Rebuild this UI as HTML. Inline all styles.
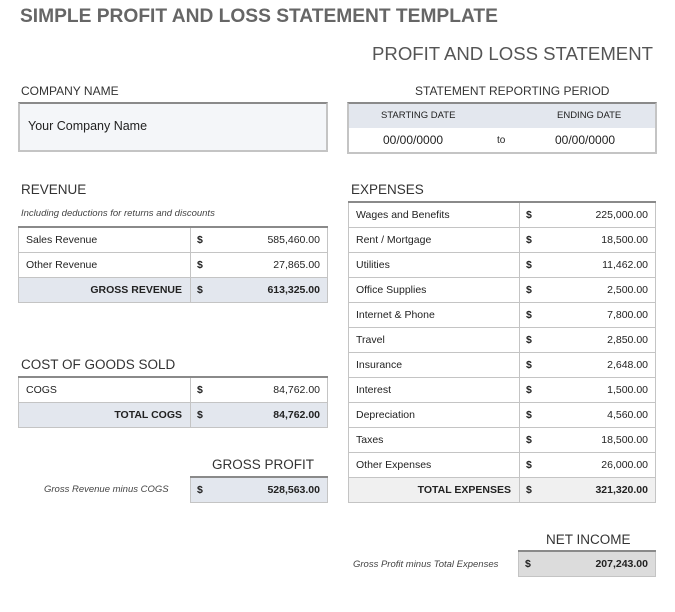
<!DOCTYPE html>
<html><head><meta charset="utf-8"><style>
body{margin:0;width:675px;height:612px;background:#fff;position:relative;font-family:"Liberation Sans",sans-serif;color:#222;overflow:hidden}
.a{position:absolute;white-space:nowrap}
table{position:absolute;border-collapse:collapse;border-top:2px solid #8a8a8a;font-size:10.5px}
td{border:1px solid #c4c4c4;height:25px;padding:0;box-sizing:border-box;vertical-align:middle}
td.l{padding-left:7px}
td.d{padding-left:6px;font-weight:bold;font-size:10.5px;border-right:none;width:30px}
td.v{text-align:right;padding-right:7px;border-left:none}
tr.t td{background:#e3e7ee;font-weight:bold}
tr.t td.l{text-align:right;padding-right:8px}
tr.g td{background:#f0f0f0;font-weight:bold}
tr.g td.l{text-align:right;padding-right:8px}
.h{font-size:13.5px;color:#333}
.i{font-style:italic;font-size:9.5px;color:#444}
</style></head><body>
<div class="a" style="left:20px;top:6px;font-size:19.2px;font-weight:bold;color:#666">SIMPLE PROFIT AND LOSS STATEMENT TEMPLATE</div>
<div class="a" style="right:22px;top:43px;font-size:18.6px;color:#555">PROFIT AND LOSS STATEMENT</div>

<div class="a h" style="left:21px;top:84px;font-size:12px">COMPANY NAME</div>
<div class="a" style="left:18px;top:102px;width:306px;height:46px;background:#f4f6f9;border:2px solid #c4c4c4;border-top:2px solid #8a8a8a"></div>
<div class="a" style="left:28px;top:119px;font-size:12.5px">Your Company Name</div>

<div class="a h" style="left:415px;top:84px;font-size:12px">STATEMENT REPORTING PERIOD</div>
<div class="a" style="left:347px;top:102px;width:306px;height:48px;border:2px solid #c4c4c4;border-top:2px solid #8a8a8a"></div>
<div class="a" style="left:349px;top:104px;width:306px;height:24px;background:#e3e7ee"></div>
<div class="a" style="left:381px;top:110px;font-size:9.5px">STARTING DATE</div>
<div class="a" style="left:557px;top:110px;font-size:9.5px">ENDING DATE</div>
<div class="a" style="left:383px;top:133px;font-size:12px">00/00/0000</div>
<div class="a" style="left:497px;top:135px;font-size:10px">to</div>
<div class="a" style="left:555px;top:133px;font-size:12px">00/00/0000</div>

<div class="a h" style="left:21px;top:182px">REVENUE</div>
<div class="a i" style="left:21px;top:208px">Including deductions for returns and discounts</div>
<table style="left:18px;top:226px;width:310px">
<tr><td class="l" style="width:172px">Sales Revenue</td><td class="d">$</td><td class="v">585,460.00</td></tr>
<tr><td class="l">Other Revenue</td><td class="d">$</td><td class="v">27,865.00</td></tr>
<tr class="t"><td class="l">GROSS REVENUE</td><td class="d">$</td><td class="v">613,325.00</td></tr>
</table>

<div class="a h" style="left:21px;top:357px">COST OF GOODS SOLD</div>
<table style="left:18px;top:376px;width:310px">
<tr><td class="l" style="width:172px">COGS</td><td class="d">$</td><td class="v">84,762.00</td></tr>
<tr class="t"><td class="l">TOTAL COGS</td><td class="d">$</td><td class="v">84,762.00</td></tr>
</table>

<div class="a h" style="left:212px;top:457px">GROSS PROFIT</div>
<div class="a i" style="left:44px;top:484px">Gross Revenue minus COGS</div>
<table style="left:190px;top:476px;width:138px">
<tr class="t"><td class="d">$</td><td class="v">528,563.00</td></tr>
</table>

<div class="a h" style="left:351px;top:182px">EXPENSES</div>
<table style="left:348px;top:201px;width:308px">
<tr><td class="l" style="width:171px">Wages and Benefits</td><td class="d">$</td><td class="v">225,000.00</td></tr>
<tr><td class="l">Rent / Mortgage</td><td class="d">$</td><td class="v">18,500.00</td></tr>
<tr><td class="l">Utilities</td><td class="d">$</td><td class="v">11,462.00</td></tr>
<tr><td class="l">Office Supplies</td><td class="d">$</td><td class="v">2,500.00</td></tr>
<tr><td class="l">Internet &amp; Phone</td><td class="d">$</td><td class="v">7,800.00</td></tr>
<tr><td class="l">Travel</td><td class="d">$</td><td class="v">2,850.00</td></tr>
<tr><td class="l">Insurance</td><td class="d">$</td><td class="v">2,648.00</td></tr>
<tr><td class="l">Interest</td><td class="d">$</td><td class="v">1,500.00</td></tr>
<tr><td class="l">Depreciation</td><td class="d">$</td><td class="v">4,560.00</td></tr>
<tr><td class="l">Taxes</td><td class="d">$</td><td class="v">18,500.00</td></tr>
<tr><td class="l">Other Expenses</td><td class="d">$</td><td class="v">26,000.00</td></tr>
<tr class="g"><td class="l">TOTAL EXPENSES</td><td class="d">$</td><td class="v">321,320.00</td></tr>
</table>

<div class="a h" style="left:546px;top:532px">NET INCOME</div>
<div class="a i" style="left:353px;top:559px">Gross Profit minus Total Expenses</div>
<table style="left:518px;top:550px;width:138px">
<tr><td class="d" style="background:#dcdcdc">$</td><td class="v" style="background:#dcdcdc;font-weight:bold">207,243.00</td></tr>
</table>
</body></html>
